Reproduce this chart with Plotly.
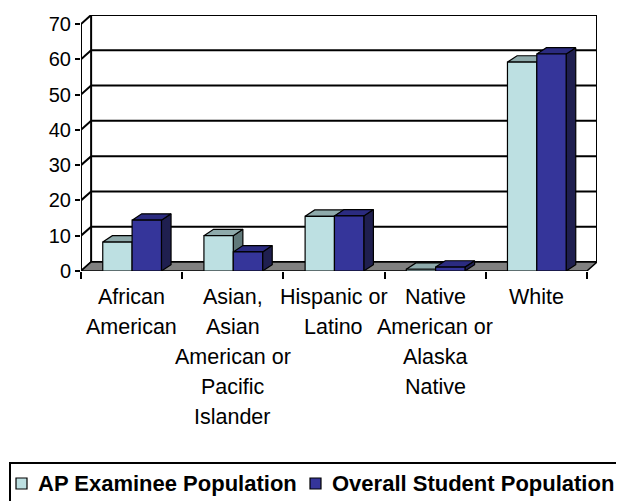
import plotly.graph_objects as go

# Data (percent of population)
categories = [
    "African<br>American",
    "Asian,<br>Asian<br>American or<br>Pacific<br>Islander",
    "Hispanic or<br>Latino",
    "Native<br>American or<br>Alaska<br>Native",
    "White",
]
series_names = ["AP Examinee Population", "Overall Student Population"]
ap_examinee = [8.2, 10.0, 15.5, 0.5, 59.2]
overall_students = [14.4, 5.4, 15.6, 1.1, 61.5]
y_ticks = [0, 10, 20, 30, 40, 50, 60, 70]

# Styling for the fake 3D look
front_colors = ["#BDE0E2", "#35359A"]
top_colors = ["#8EAAAB", "#2B2B80"]
side_colors = ["#60797A", "#1F1F4F"]
bar_offsets = [-0.285, 0.005]
bar_width = 0.29
bar_dx, bar_dy = 0.095, 1.8      # depth of a bar, in data units
wall_dx, wall_dy = 0.1, 2.55     # depth of floor / back wall
font_family = "Liberation Sans, Arial, sans-serif"

# the html page has an 8px body margin, so the figure is 8px smaller
# and positions below are given in window pixels
PAGE = 8
W, H = 624 - PAGE, 501 - PAGE
M = dict(l=81 - PAGE, r=27, t=15 - PAGE, b=230)
n = len(categories)
x_lo, x_hi = -0.5, n - 0.5
y_max = max(y_ticks)


def paper_x(px):
    return (px - PAGE - M["l"]) / (W - M["l"] - M["r"])


def paper_y(py):
    return (H - M["b"] - (py - PAGE)) / (H - M["t"] - M["b"])


fig = go.Figure()

# bars: for each series draw side faces, top faces, then front faces
for s, values in enumerate([ap_examinee, overall_students]):
    sx, sy, tx, ty, fx, fy = [], [], [], [], [], []
    for i, v in enumerate(values):
        x0 = i + bar_offsets[s]
        x1 = x0 + bar_width
        sx += [x1, x1 + bar_dx, x1 + bar_dx, x1, x1, None]
        sy += [0, bar_dy, v + bar_dy, v, 0, None]
        tx += [x0, x0 + bar_dx, x1 + bar_dx, x1, x0, None]
        ty += [v, v + bar_dy, v + bar_dy, v, v, None]
        fx += [x0, x0, x1, x1, x0, None]
        fy += [0, v, v, 0, 0, None]
    faces = [(sx, sy, side_colors[s]), (tx, ty, top_colors[s]), (fx, fy, front_colors[s])]
    for k, (px_, py_, col) in enumerate(faces):
        fig.add_trace(go.Scatter(x=px_, y=py_, mode="lines", fill="toself", fillcolor=col,
                                 line=dict(color="black", width=1.2), showlegend=False,
                                 name=series_names[s], hoverinfo="skip"))

# walls, gridlines and floor
shapes = []
for v in y_ticks:
    shapes.append(dict(type="line", xref="x", yref="y", layer="below",
                       x0=x_lo + wall_dx, x1=x_hi + wall_dx, y0=v + wall_dy, y1=v + wall_dy,
                       line=dict(color="black", width=2)))
    shapes.append(dict(type="line", xref="x", yref="y", layer="below",
                       x0=x_lo, x1=x_lo + wall_dx, y0=v, y1=v + wall_dy,
                       line=dict(color="black", width=2)))
for xe in [x_lo + wall_dx, x_hi + wall_dx]:
    shapes.append(dict(type="line", xref="x", yref="y", layer="below",
                       x0=xe, x1=xe, y0=wall_dy, y1=y_max + wall_dy,
                       line=dict(color="black", width=2)))
shapes.append(dict(type="line", xref="x", yref="y", layer="below",
                   x0=x_lo, x1=x_lo, y0=0, y1=y_max, line=dict(color="black", width=2)))
shapes.append(dict(type="path", xref="x", yref="y", layer="below",
                   path=f"M{x_lo},0 L{x_hi},0 L{x_hi + wall_dx},{wall_dy} L{x_lo + wall_dx},{wall_dy} Z",
                   fillcolor="#808080", line=dict(color="black", width=1.5)))

# category labels, one annotation per line
annotations = []
for i, label in enumerate(categories):
    for k, line in enumerate(label.split("<br>")):
        annotations.append(dict(x=i, y=0, xref="x", yref="y", text=line, showarrow=False,
                                xanchor="center", yanchor="middle", yshift=-(26 + 30 * k),
                                font=dict(size=21.5, family=font_family, color="black")))

# legend box (runs off the right and bottom edge like the original)
shapes.append(dict(type="rect", xref="paper", yref="paper",
                   x0=paper_x(10), x1=paper_x(650), y0=paper_y(530), y1=paper_y(463),
                   fillcolor="white", line=dict(color="black", width=2)))
legend_x = [16, 310]
for s, name in enumerate(series_names):
    shapes.append(dict(type="rect", xref="paper", yref="paper",
                       x0=paper_x(legend_x[s]), x1=paper_x(legend_x[s] + 11),
                       y0=paper_y(489), y1=paper_y(478),
                       fillcolor=front_colors[s], line=dict(color="black", width=1.2)))
    annotations.append(dict(x=paper_x(legend_x[s] + 20), y=paper_y(483.5), xref="paper", yref="paper",
                            text=f"<b>{name}</b>", showarrow=False, xanchor="left", yanchor="middle",
                            font=dict(size=22, family=font_family, color="black")))

fig.update_layout(
    width=W, height=H,
    margin=M,
    plot_bgcolor="white", paper_bgcolor="white",
    font=dict(family=font_family, color="black"),
    shapes=shapes, annotations=annotations,
    showlegend=False,
    xaxis=dict(range=[x_lo, x_hi + wall_dx], showgrid=False, zeroline=False, showline=False,
               tickvals=[i - 0.5 for i in range(n + 1)], ticks="outside", ticklen=7,
               tickwidth=2, tickcolor="black", showticklabels=False, fixedrange=True,
               automargin=False),
    yaxis=dict(range=[0, y_max + wall_dy], showgrid=False, zeroline=False, showline=False,
               tickvals=y_ticks, ticks="outside", ticklen=5, tickwidth=2, tickcolor="black",
               tickfont=dict(size=20), fixedrange=True, automargin=False),
)

fig.write_html("out.html")
